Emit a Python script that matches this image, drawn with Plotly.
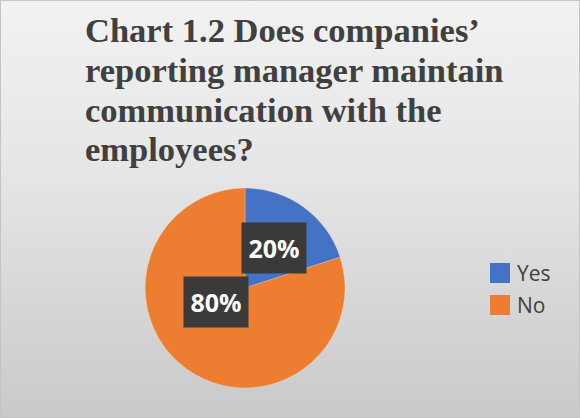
import math
import plotly.graph_objects as go

labels = ["Yes", "No"]
values = [20, 80]
colors = ["#4472C4", "#ED7D31"]
title_lines = ["Chart 1.2 Does companies’", "reporting manager maintain",
               "communication with the", "employees?"]

W, H = 580, 418
dom_x = [0.25, 0.595]
dom_y = [0.072, 0.550]

fig = go.Figure(go.Pie(
    labels=labels, values=values, sort=False, direction="clockwise", rotation=0,
    marker=dict(colors=colors, line=dict(color="rgba(255,255,255,0.4)", width=0.5)),
    textinfo="none", hoverinfo="label+percent",
    domain=dict(x=dom_x, y=dom_y), showlegend=False,
))

# data labels placed along slice bisectors (derived from values)
cx = (dom_x[0] + dom_x[1]) / 2 * W
cy = (dom_y[0] + dom_y[1]) / 2 * H
R = min((dom_x[1] - dom_x[0]) * W, (dom_y[1] - dom_y[0]) * H) / 2
total = sum(values)
start = 0.0
annotations = []
for v in values:
    mid = (start + v / 2) / total * 2 * math.pi
    start += v
    x = cx + 0.5 * R * math.sin(mid)
    y = cy + 0.5 * R * math.cos(mid)
    annotations.append(dict(
        x=x / W, y=y / H, xref="paper", yref="paper", showarrow=False,
        text=f"<b>{round(v / total * 100)}%</b>",
        font=dict(family="Open Sans", size=25, color="white"),
        bgcolor="#3a3a3a", borderpad=0, width=64, height=50,
    ))

# title, one annotation per line for tight line spacing
for i, line in enumerate(title_lines):
    annotations.append(dict(
        x=83 / W, y=1 - (29.5 + 40 * i) / H, xref="paper", yref="paper",
        xanchor="left", yanchor="middle", showarrow=False, align="left",
        text=f"<b>{line}</b>",
        font=dict(family="Liberation Serif", size=34.5, color="#404040"),
    ))

# legend (drawn manually for larger swatches)
shapes = []
for i, (lab, col) in enumerate(zip(labels, colors)):
    yc = 273 + 32 * i
    shapes.append(dict(type="rect", xref="paper", yref="paper",
                       x0=490 / W, x1=510 / W, y0=1 - (yc + 10) / H, y1=1 - (yc - 10) / H,
                       fillcolor=col, line=dict(width=0)))
    annotations.append(dict(
        x=515 / W, y=1 - yc / H, xref="paper", yref="paper", xanchor="left", yanchor="middle",
        showarrow=False, text=lab, font=dict(family="Open Sans", size=21, color="#404040"),
    ))

shapes.append(dict(type="rect", xref="paper", yref="paper", x0=0, y0=0, x1=1, y1=1,
                   line=dict(color="#c4c4c4", width=2)))

grad = ("data:image/svg+xml;utf8,<svg xmlns='http://www.w3.org/2000/svg' width='580' height='418'>"
        "<defs><linearGradient id='g' x1='0' y1='0' x2='0' y2='1'>"
        "<stop offset='0' stop-color='%23f2f2f2'/><stop offset='0.4' stop-color='%23e6e6e6'/>"
        "<stop offset='1' stop-color='%23c9c9c9'/></linearGradient></defs>"
        "<rect width='580' height='418' fill='url(%23g)'/></svg>")

fig.update_layout(
    width=W, height=H, margin=dict(l=0, r=0, t=0, b=0),
    paper_bgcolor="#dcdcdc", plot_bgcolor="rgba(0,0,0,0)",
    images=[dict(source=grad, xref="paper", yref="paper", x=0, y=1, sizex=1, sizey=1,
                 xanchor="left", yanchor="top", sizing="stretch", layer="below")],
    shapes=shapes,
    annotations=annotations,
)

fig.write_html("out.html", config={"displayModeBar": False},
               post_script="document.body.style.margin='0';document.body.style.overflow='hidden';")
